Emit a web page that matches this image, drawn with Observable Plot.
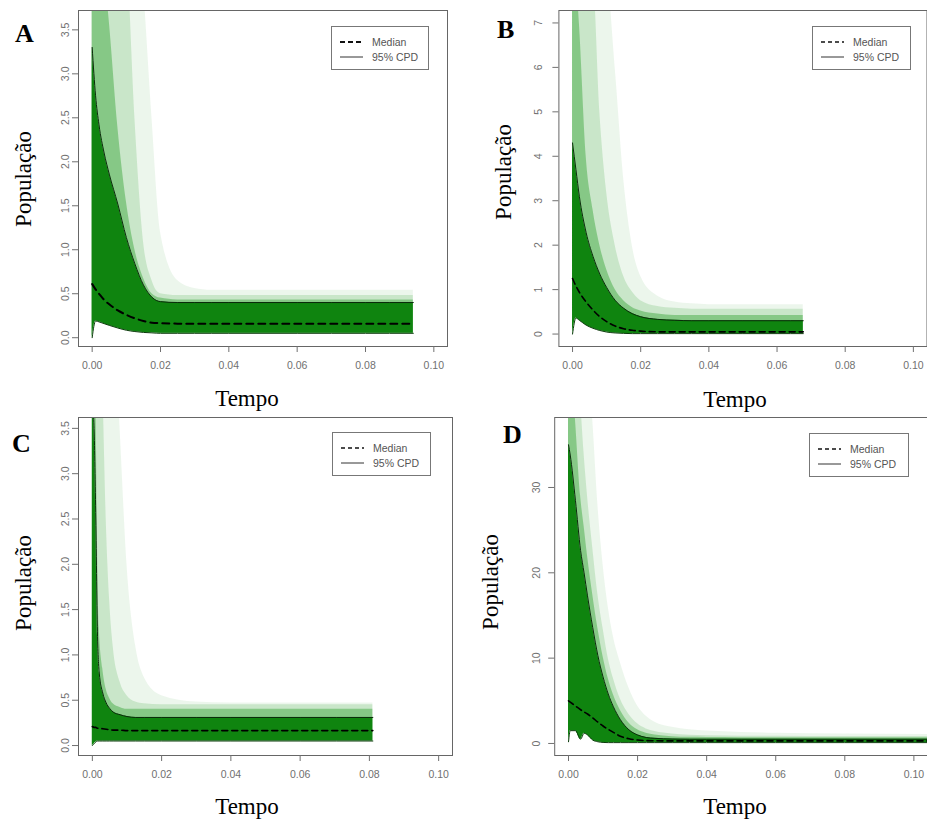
<!DOCTYPE html>
<html><head><meta charset="utf-8">
<script src="https://cdn.jsdelivr.net/npm/d3@7"></script>
<script src="https://cdn.jsdelivr.net/npm/@observablehq/plot@0.6"></script>
<style>
html,body{margin:0;padding:0;background:#fff;overflow:hidden;}
#wrap{position:relative;width:927px;height:822px;background:#fff;}
.pl{position:absolute;}
#overlay{position:absolute;left:0;top:0;pointer-events:none;}
</style></head><body><div id="wrap"></div>
<script>
// ---------- data ----------
const xTicks = [0, 0.02, 0.04, 0.06, 0.08, 0.10];

// Panel A
const timeA   = [0, 0.001, 0.002, 0.0035, 0.005, 0.0075, 0.01, 0.0125, 0.015, 0.0175, 0.02, 0.025, 0.03, 0.035, 0.04, 0.05, 0.06, 0.07, 0.08, 0.094];
const upperA  = [3.30, 2.75, 2.42, 2.10, 1.86, 1.52, 1.14, 0.84, 0.60, 0.46, 0.41, 0.40, 0.40, 0.40, 0.40, 0.40, 0.40, 0.40, 0.40, 0.40];
const medianA = [0.61, 0.55, 0.50, 0.43, 0.38, 0.31, 0.26, 0.22, 0.19, 0.17, 0.165, 0.16, 0.16, 0.16, 0.16, 0.16, 0.16, 0.16, 0.16, 0.16];
const lowerA  = [0.0, 0.19, 0.18, 0.16, 0.14, 0.11, 0.085, 0.07, 0.06, 0.055, 0.05, 0.05, 0.05, 0.05, 0.05, 0.05, 0.05, 0.05, 0.05, 0.05];
const env3A   = [5, 5, 4.8, 4.2, 3.6, 2.4, 1.55, 1.0, 0.68, 0.5, 0.45, 0.43, 0.43, 0.43, 0.43, 0.43, 0.43, 0.43, 0.43, 0.43];
const env2A   = [5, 5, 5, 5, 5, 5, 4.5, 2.5, 1.1, 0.65, 0.5, 0.48, 0.48, 0.48, 0.48, 0.48, 0.48, 0.48, 0.48, 0.48];
const env1A   = [5, 5, 5, 5, 5, 5, 5, 5, 4.0, 2.5, 1.2, 0.65, 0.56, 0.54, 0.54, 0.54, 0.54, 0.54, 0.54, 0.54];
const yTicksA = [0, 0.5, 1.0, 1.5, 2.0, 2.5, 3.0, 3.5];

// Panel B
const timeB   = [0, 0.001, 0.002, 0.004, 0.006, 0.008, 0.01, 0.0125, 0.015, 0.0175, 0.02, 0.025, 0.03, 0.035, 0.04, 0.05, 0.06, 0.0677];
const upperB  = [4.3, 3.7, 3.1, 2.28, 1.75, 1.35, 1.05, 0.76, 0.58, 0.46, 0.39, 0.33, 0.31, 0.30, 0.30, 0.30, 0.30, 0.30];
const medianB = [1.25, 1.08, 0.94, 0.72, 0.54, 0.39, 0.28, 0.18, 0.12, 0.085, 0.065, 0.05, 0.05, 0.05, 0.05, 0.05, 0.05, 0.05];
const lowerB  = [0.0, 0.36, 0.31, 0.2, 0.13, 0.08, 0.045, 0.025, 0.015, 0.01, 0.01, 0.01, 0.01, 0.01, 0.01, 0.01, 0.01, 0.01];
const env3B   = [8, 8, 7, 4.0, 2.8, 2.0, 1.45, 1.0, 0.75, 0.6, 0.52, 0.45, 0.42, 0.42, 0.42, 0.42, 0.42, 0.42];
const env2B   = [8, 8, 8, 8, 8, 5, 3.2, 2.0, 1.3, 0.95, 0.75, 0.62, 0.58, 0.56, 0.56, 0.56, 0.56, 0.56];
const env1B   = [8, 8, 8, 8, 8, 8, 8, 6, 3.5, 2.0, 1.3, 0.85, 0.72, 0.68, 0.66, 0.66, 0.66, 0.66];
const yTicksB = [0, 1, 2, 3, 4, 5, 6, 7];

// Panel C
const timeC   = [0, 0.0005, 0.001, 0.0015, 0.002, 0.003, 0.004, 0.005, 0.006, 0.008, 0.01, 0.0125, 0.015, 0.02, 0.03, 0.04, 0.06, 0.081];
const upperC  = [3.8, 3.5, 2.5, 1.2, 0.8, 0.58, 0.47, 0.41, 0.37, 0.34, 0.32, 0.31, 0.31, 0.31, 0.31, 0.31, 0.31, 0.31];
const medianC = [0.21, 0.2, 0.2, 0.19, 0.19, 0.185, 0.18, 0.175, 0.17, 0.17, 0.165, 0.165, 0.165, 0.165, 0.165, 0.165, 0.165, 0.165];
const lowerC  = [0.0, 0.02, 0.04, 0.05, 0.05, 0.05, 0.05, 0.05, 0.05, 0.05, 0.05, 0.05, 0.05, 0.05, 0.05, 0.05, 0.05, 0.05];
const env3C   = [5, 5, 4.0, 2.2, 1.3, 0.85, 0.62, 0.52, 0.46, 0.42, 0.4, 0.4, 0.4, 0.4, 0.4, 0.4, 0.4, 0.4];
const env2C   = [5, 5, 5, 5, 5, 4.0, 2.5, 1.6, 1.1, 0.7, 0.55, 0.48, 0.46, 0.45, 0.45, 0.45, 0.45, 0.45];
const env1C   = [5, 5, 5, 5, 5, 5, 5, 5, 5, 3.5, 2.0, 1.1, 0.75, 0.55, 0.48, 0.47, 0.47, 0.47];
const yTicksC = [0, 0.5, 1.0, 1.5, 2.0, 2.5, 3.0, 3.5];

// Panel D
const timeD   = [0, 0.0005, 0.002, 0.0035, 0.0045, 0.0055, 0.007, 0.0085, 0.01, 0.0115, 0.013, 0.015, 0.0175, 0.02, 0.0225, 0.025, 0.03, 0.035, 0.04, 0.05, 0.06, 0.08, 0.105];
const upperD  = [35.0, 33.8, 28.5, 22.6, 20.0, 17.3, 13.6, 10.3, 7.8, 5.8, 4.3, 2.8, 1.6, 1.0, 0.7, 0.6, 0.52, 0.5, 0.5, 0.5, 0.5, 0.5, 0.5];
const medianD = [5.0, 4.85, 4.4, 3.95, 3.7, 3.45, 3.0, 2.5, 2.05, 1.65, 1.3, 0.85, 0.55, 0.4, 0.34, 0.32, 0.3, 0.3, 0.3, 0.3, 0.3, 0.3, 0.3];
const lowerD  = [0.2, 1.5, 1.5, 0.5, 1.2, 1.0, 0.4, 0.2, 0.12, 0.1, 0.1, 0.1, 0.1, 0.1, 0.1, 0.1, 0.1, 0.1, 0.1, 0.1, 0.1, 0.1, 0.1];
const env3D   = [45, 45, 38, 29, 25.5, 22, 17.5, 13.5, 10.2, 7.6, 5.7, 3.9, 2.4, 1.6, 1.2, 1.0, 0.8, 0.72, 0.7, 0.68, 0.68, 0.68, 0.68];
const env2D   = [45, 45, 45, 40, 34, 29, 23, 17.5, 13.5, 10, 7.6, 5.2, 3.4, 2.3, 1.7, 1.4, 1.1, 0.95, 0.9, 0.85, 0.85, 0.82, 0.82];
const env1D   = [45, 45, 45, 45, 45, 45, 38, 28, 21, 16, 12.5, 9.5, 6.5, 4.4, 3.2, 2.5, 1.9, 1.6, 1.45, 1.3, 1.2, 1.1, 1.05];
const yTicksD = [0, 10, 20, 30];

const legendLabels = ["Median", "95% CPD"];
const panelLetters = ["A", "B", "C", "D"];
const xLabel = "Tempo";
const yLabel = "População";

// ---------- layout / style ----------
const GREEN = "#2aa02a", DARK = "#0f840f";
const panels = [
  {time: timeA, upper: upperA, median: medianA, lower: lowerA, env1: env1A, env2: env2A, env3: env3A, yTicks: yTicksA, fmt: d3.format(".1f"), yDomain: [-0.10, 3.72],
   box: {l: 40, t: 0, w: 420, h: 385, fl: 78, fr: 447, ft: 10, fb: 346}, yPad: 4, medW: 2, dash: "7,5"},
  {time: timeB, upper: upperB, median: medianB, lower: lowerB, env1: env1B, env2: env2B, env3: env3B, yTicks: yTicksB, fmt: d3.format("d"), yDomain: [-0.28, 7.28],
   box: {l: 515, t: 0, w: 412, h: 385, fl: 558.4, fr: 926.5, ft: 10, fb: 346}, yPad: 11, medW: 1.6, dash: "6,4"},
  {time: timeC, upper: upperC, median: medianC, lower: lowerC, env1: env1C, env2: env2C, env3: env3C, yTicks: yTicksC, fmt: d3.format(".1f"), yDomain: [-0.11, 3.62],
   box: {l: 40, t: 410, w: 420, h: 385, fl: 78, fr: 452, ft: 417, fb: 755}, yPad: 4, medW: 1.6, dash: "6,4"},
  {time: timeD, upper: upperD, median: medianD, lower: lowerD, env1: env1D, env2: env2D, env3: env3D, yTicks: yTicksD, fmt: d3.format("d"), yDomain: [-1.41, 38.2],
   box: {l: 515, t: 410, w: 412, h: 385, fl: 554.2, fr: 927.2, ft: 417, fb: 755}, yPad: 9, medW: 1.6, dash: "6,4"}
];

const wrap = document.getElementById("wrap");

function makePanel(p) {
  const rows = p.time.map((t, i) => ({t, lower: p.lower[i], median: p.median[i], upper: p.upper[i], e1: p.env1[i], e2: p.env2[i], e3: p.env3[i]}));
  const b = p.box;
  const curve = "monotone-x";
  const svg = Plot.plot({
    width: b.w, height: b.h,
    marginLeft: b.fl - b.l, marginRight: b.l + b.w - b.fr,
    marginTop: b.ft - b.t, marginBottom: b.t + b.h - b.fb,
    style: {fontFamily: "'Liberation Sans', Arial, sans-serif", background: "transparent", overflow: "visible"},
    x: {domain: [-0.004, 0.104]},
    y: {domain: p.yDomain},
    marks: [
      Plot.areaY(rows, {x: "t", y1: "lower", y2: "e1", fill: GREEN, fillOpacity: 0.09, curve, clip: true}),
      Plot.areaY(rows, {x: "t", y1: "lower", y2: "e2", fill: GREEN, fillOpacity: 0.18, curve, clip: true}),
      Plot.areaY(rows, {x: "t", y1: "lower", y2: "e3", fill: GREEN, fillOpacity: 0.42, curve, clip: true}),
      Plot.areaY(rows, {x: "t", y1: "lower", y2: "upper", fill: DARK, curve, clip: true}),
      Plot.lineY(rows, {x: "t", y: "upper", stroke: "#0a2a0a", strokeWidth: 1, curve, clip: true}),
      Plot.lineY(rows, {x: "t", y: "lower", stroke: "#0a3a0a", strokeWidth: 1, curve, clip: true}),
      Plot.lineY(rows, {x: "t", y: "median", stroke: "#000", strokeWidth: p.medW, strokeDasharray: p.dash, curve, clip: true}),
      Plot.frame({stroke: "#666"}),
      Plot.axisX({ticks: xTicks, tickFormat: d3.format(".2f"), tickSize: 6, tickPadding: 9, fontSize: 10.5, color: "#707070", label: null}),
      Plot.axisY({ticks: p.yTicks, tickFormat: p.fmt, tickSize: 6, tickRotate: -90, tickPadding: p.yPad, fontSize: 10.5, color: "#707070", label: null})
    ]
  });
  svg.classList.add("pl");
  svg.style.left = b.l + "px";
  svg.style.top = b.t + "px";
  wrap.appendChild(svg);
}
panels.forEach(makePanel);

// ---------- overlay: panel letters, axis titles, legends ----------
const ov = d3.select(wrap).append("svg").attr("id", "overlay").attr("width", 927).attr("height", 822);
const serif = "'Liberation Serif', 'Times New Roman', serif";
const letterPos = [[15, 42], [497, 38], [12, 452], [503, 443]];
letterPos.forEach(([x, y], i) => ov.append("text").attr("x", x).attr("y", y).attr("font-family", serif)
  .attr("font-weight", "bold").attr("font-size", 26).attr("fill", "#000").text(panelLetters[i]));
const tempoPos = [[247, 406], [735, 407], [247, 814], [735, 814]];
tempoPos.forEach(([x, y]) => ov.append("text").attr("x", x).attr("y", y).attr("text-anchor", "middle")
  .attr("font-family", serif).attr("font-size", 23).attr("fill", "#000").text(xLabel));
const popPos = [[23, 179], [503, 172], [23, 583], [490, 582]];
popPos.forEach(([x, y]) => ov.append("text").attr("transform", `translate(${x},${y}) rotate(-90)`)
  .attr("text-anchor", "middle").attr("dominant-baseline", "central")
  .attr("font-family", serif).attr("font-size", 23).attr("fill", "#000").text(yLabel));

const legends = [
  {x: 331, y: 26, w: 97, h: 43, medW: 2, dash: "5,3"},
  {x: 812, y: 26, w: 98, h: 43, medW: 1.3, dash: "4,3"},
  {x: 332, y: 432, w: 98, h: 43, medW: 1.3, dash: "4,3"},
  {x: 809, y: 433, w: 99, h: 43, medW: 1.3, dash: "4,3"}
];
legends.forEach(L => {
  const g = ov.append("g").attr("transform", `translate(${L.x},${L.y})`);
  g.append("rect").attr("x", 0.5).attr("y", 0.5).attr("width", L.w).attr("height", L.h).attr("fill", "#fff").attr("stroke", "#777");
  g.append("line").attr("x1", 9).attr("x2", 32).attr("y1", 16).attr("y2", 16).attr("stroke", "#111").attr("stroke-width", L.medW).attr("stroke-dasharray", L.dash);
  g.append("line").attr("x1", 9).attr("x2", 32).attr("y1", 31).attr("y2", 31).attr("stroke", "#333").attr("stroke-width", 1);
  legendLabels.forEach((s, i) => g.append("text").attr("x", 41).attr("y", 16 + 15 * i).attr("dominant-baseline", "central")
    .attr("font-family", "'Liberation Sans', Arial, sans-serif").attr("font-size", 10.5).attr("fill", "#555").text(s));
});
</script>
</body></html>
